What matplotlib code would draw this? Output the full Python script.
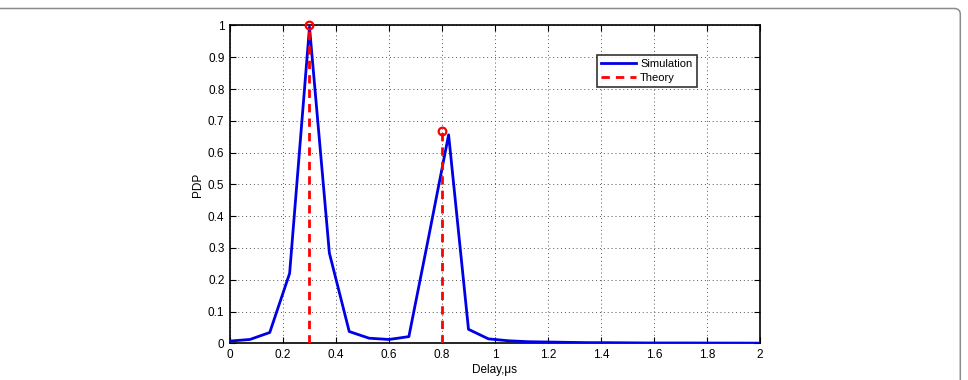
import numpy as np
import matplotlib
matplotlib.use("Agg")
import matplotlib.pyplot as plt
from matplotlib.patches import FancyBboxPatch

# Simulation data (delay in microseconds, PDP)
sim_delay = [0.0, 0.075, 0.15, 0.225, 0.3, 0.375, 0.45, 0.525, 0.6, 0.675,
             0.75, 0.825, 0.9, 0.975, 1.05, 1.125, 1.2, 1.275, 1.35, 1.425,
             1.5, 1.575, 1.65, 1.725, 1.8, 1.875, 1.95, 2.0]
sim_pdp = [0.007, 0.012, 0.034, 0.22, 0.995, 0.284, 0.037, 0.016, 0.012, 0.021,
           0.336, 0.656, 0.044, 0.014, 0.008, 0.005, 0.004, 0.003, 0.002, 0.002,
           0.0015, 0.001, 0.001, 0.001, 0.0008, 0.0007, 0.0006, 0.0005]

# Theory
theory_delay = [0.3, 0.8]
theory_pdp = [1.0, 0.667]

xticks = [0, 0.2, 0.4, 0.6, 0.8, 1, 1.2, 1.4, 1.6, 1.8, 2]
xticklabels = ["0", "0.2", "0.4", "0.6", "0.8", "1", "1.2", "1.4", "1.6", "1.8", "2"]
yticks = [0, 0.1, 0.2, 0.3, 0.4, 0.5, 0.6, 0.7, 0.8, 0.9, 1]
yticklabels = ["0", "0.1", "0.2", "0.3", "0.4", "0.5", "0.6", "0.7", "0.8", "0.9", "1"]

plt.rcParams['font.family'] = ['Liberation Sans', 'DejaVu Sans']

fig = plt.figure(figsize=(9.68, 3.8), dpi=100)
# rounded figure border (in inches; open at left and bottom as in the reference)
border = FancyBboxPatch((-0.2, -0.2), 9.603 + 0.2, 3.715 + 0.2,
                        boxstyle="round,pad=0,rounding_size=0.06",
                        transform=fig.dpi_scale_trans, fill=False,
                        edgecolor="#8c8c8c", linewidth=1.1)
fig.patches.append(border)

ax = fig.add_axes([0.2376, 0.0966, 0.5475, 0.8364])

sim_line, = ax.plot(sim_delay, sim_pdp, color="#0000e6", linewidth=2.0,
                    label="Simulation", zorder=3)

theory_handle = None
for x, y in zip(theory_delay, theory_pdp):
    h, = ax.plot([x, x], [0, y], color="#ff0000", linestyle=(0, (3, 2.2)),
                 linewidth=2.0, zorder=4)
    ax.plot([x], [y], marker="o", markersize=5.5, markerfacecolor="none",
            markeredgecolor="#ff0000", markeredgewidth=1.6, zorder=5,
            clip_on=False)
    theory_handle = h
theory_handle.set_label("Theory")

ax.set_xlim(0, 2)
ax.set_ylim(0, 1)
ax.set_xticks(xticks)
ax.set_xticklabels(xticklabels)
ax.set_yticks(yticks)
ax.set_yticklabels(yticklabels)
ax.tick_params(direction="in", top=True, right=True, labelsize=8.5,
               length=4, width=0.8, pad=4)
ax.grid(True, linestyle=(0, (1, 3)), color="#555555", linewidth=0.7)
for s in ax.spines.values():
    s.set_linewidth(1.2)

ax.set_xlabel("Delay,μs", fontsize=8.5, labelpad=2)
ax.set_ylabel("PDP", fontsize=8.5, labelpad=3)

leg = ax.legend(handles=[sim_line, theory_handle],
                loc="upper left", bbox_to_anchor=(0.692, 0.908),
                fontsize=8, frameon=True, fancybox=False,
                edgecolor="black", borderpad=0.4, labelspacing=0.35,
                handlelength=3.1, handletextpad=0.4, borderaxespad=0)
leg.get_frame().set_linewidth(1.2)

fig.savefig("out.png", dpi=100)
